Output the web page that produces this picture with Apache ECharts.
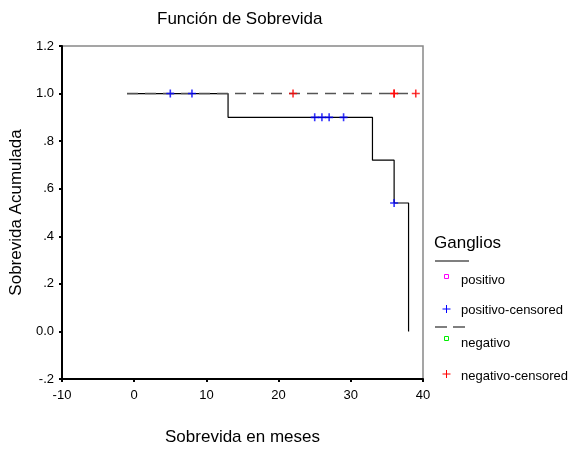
<!DOCTYPE html>
<html>
<head>
<meta charset="utf-8">
<script src="https://cdn.jsdelivr.net/npm/echarts@6/dist/echarts.min.js"></script>
<style>
  html, body { margin: 0; padding: 0; background: #fff; }
  #chart { width: 574px; height: 451px; }
</style>
</head>
<body>
<div id="chart"></div>
<script>
// curva Kaplan-Meier, ganglios positivos
const posTimes = [-1, 13, 33, 36, 38];
const posSurv = [1.0, 0.9, 0.72, 0.54, 0.0];
// censurados positivos
const posCensTimes = [5, 8, 25, 26, 27, 29, 36];
const posCensSurv = [1.0, 1.0, 0.9, 0.9, 0.9, 0.9, 0.54];
// curva negativos (sin eventos)
const negTimes = [-1, 39];
const negSurv = [1.0, 1.0];
const negCensTimes = [22, 36, 36, 39];
const negCensSurv = [1.0, 1.0, 1.0, 1.0];

const yTickLabels = { '-0.2': '-.2', '0': '0.0', '0.2': '.2', '0.4': '.4', '0.6': '.6', '0.8': '.8', '1': '1.0', '1.2': '1.2' };

const font = 'Liberation Sans, Arial, sans-serif';
const plus = 'path://M4,0h2v10h-2zM0,4h10v2h-10z';

function pairs(xs, ys) {
  return xs.map(function (x, i) { return [x, ys[i]]; });
}

// cruz de la leyenda
function cross(cx, cy, color) {
  return [
    { type: 'line', shape: { x1: cx, y1: cy - 4, x2: cx, y2: cy + 4 }, style: { stroke: color, lineWidth: 1 } },
    { type: 'line', shape: { x1: cx - 4, y1: cy, x2: cx + 4, y2: cy }, style: { stroke: color, lineWidth: 1 } }
  ];
}

function label(x, y, text, size) {
  return { type: 'text', x: x, y: y, style: { text: text, font: size + 'px ' + font, fill: '#000', textVerticalAlign: 'middle' } };
}

const chart = echarts.init(document.getElementById('chart'), null, { renderer: 'canvas' });

chart.setOption({
  animation: false,
  backgroundColor: '#fff',
  textStyle: { fontFamily: font },
  title: {
    text: 'Función de Sobrevida',
    left: 152, top: 6,
    textStyle: { fontSize: 17, fontWeight: 'normal', color: '#000', fontFamily: font }
  },
  grid: {
    left: 62, right: 151, top: 46, bottom: 66,
    show: true, borderColor: '#888', borderWidth: 1.5, backgroundColor: 'transparent'
  },
  xAxis: {
    type: 'value', min: -10, max: 40, interval: 10,
    name: 'Sobrevida en meses', nameLocation: 'middle', nameGap: 50,
    nameTextStyle: { fontSize: 17, color: '#000', fontFamily: font },
    axisLine: { onZero: false, lineStyle: { color: '#000', width: 2 } },
    axisTick: { length: 3, lineStyle: { color: '#000', width: 2 } },
    axisLabel: { fontSize: 13, color: '#000', margin: 10, fontFamily: font },
    splitLine: { show: false }
  },
  yAxis: {
    type: 'value', min: -0.2, max: 1.2, interval: 0.2,
    name: 'Sobrevida Acumulada', nameLocation: 'middle', nameGap: 31,
    nameTextStyle: { fontSize: 17, color: '#000', fontFamily: font },
    axisLine: { show: true, onZero: false, lineStyle: { color: '#000', width: 2 } },
    axisTick: { show: true, length: 3, lineStyle: { color: '#000', width: 2 } },
    axisLabel: {
      fontSize: 13, color: '#000', margin: 8, fontFamily: font,
      formatter: function (v) { return yTickLabels[String(Math.round(v * 10) / 10)] || ''; }
    },
    splitLine: { show: false }
  },
  series: [
    {
      name: 'positivo', type: 'line', step: 'end', symbol: 'none',
      data: pairs(posTimes, posSurv),
      lineStyle: { color: '#000', width: 1.2 }
    },
    {
      name: 'negativo', type: 'line', symbol: 'none',
      data: pairs(negTimes, negSurv),
      lineStyle: { color: '#555', width: 1.5, type: [11, 7] }
    },
    {
      name: 'positivo-censored', type: 'scatter', symbol: plus, symbolSize: 8,
      data: pairs(posCensTimes, posCensSurv),
      itemStyle: { color: '#0000ff' }, z: 5
    },
    {
      name: 'negativo-censored', type: 'scatter', symbol: plus, symbolSize: 8,
      data: pairs(negCensTimes, negCensSurv),
      itemStyle: { color: '#ff0000' }, z: 5
    }
  ],
  graphic: [
    label(434, 243, 'Ganglios', 17),
    { type: 'line', shape: { x1: 435, y1: 261, x2: 469, y2: 261 }, style: { stroke: '#000', lineWidth: 1.2 } },
    { type: 'rect', shape: { x: 444.5, y: 274.5, width: 4, height: 4 }, style: { fill: 'none', stroke: '#ff00ff', lineWidth: 1 } },
    label(461, 280, 'positivo', 13),
    ...cross(446.5, 309, '#0000ff'),
    label(461, 310, 'positivo-censored', 13),
    { type: 'line', shape: { x1: 435, y1: 327, x2: 447, y2: 327 }, style: { stroke: '#555', lineWidth: 1.5 } },
    { type: 'line', shape: { x1: 453, y1: 327, x2: 465, y2: 327 }, style: { stroke: '#555', lineWidth: 1.5 } },
    { type: 'rect', shape: { x: 444.5, y: 336.5, width: 4, height: 4 }, style: { fill: 'none', stroke: '#00ee00', lineWidth: 1 } },
    label(461, 343, 'negativo', 13),
    ...cross(446.5, 374, '#ff0000'),
    label(461, 376, 'negativo-censored', 13)
  ]
});
</script>
</body>
</html>
